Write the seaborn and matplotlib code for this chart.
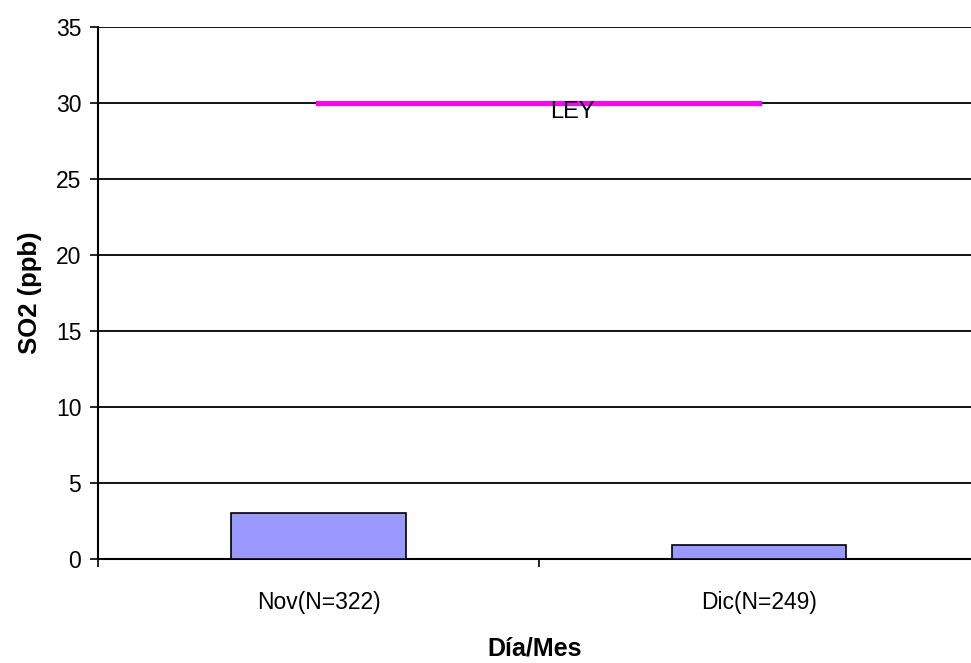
import matplotlib
matplotlib.use("Agg")
import matplotlib.pyplot as plt
import seaborn as sns
import pandas as pd
import numpy as np
from matplotlib.ticker import FixedLocator

categories = ["Nov(N=322)", "Dic(N=249)"]
so2_values = [3.0, 0.9]
ley_values = [30, 30]
ley_label = "LEY"
y_ticks = [0, 5, 10, 15, 20, 25, 30, 35]

sns.set_theme(style="white")
plt.rcParams["font.family"] = ["Liberation Sans", "DejaVu Sans"]
plt.rcParams["text.color"] = "black"
plt.rcParams["axes.labelcolor"] = "black"
plt.rcParams["xtick.color"] = "black"
plt.rcParams["ytick.color"] = "black"

fig = plt.figure(figsize=(9.71, 6.63), dpi=100)
ax = fig.add_axes([98/971, 104/663, 873/971, 532/663])

df = pd.DataFrame({"mes": categories, "so2": so2_values})
sns.barplot(data=df, x="mes", y="so2", ax=ax, color="#9999FF", saturation=1,
            width=0.395, edgecolor="black", linewidth=1.2, zorder=3)

xpos = np.arange(len(categories))
ax.plot(xpos, ley_values, color="#FF00FF", linewidth=3.8, zorder=4,
        solid_capstyle="projecting")
ax.text(0.575, 30.15, ley_label, ha="center", va="top", fontsize=17,
        color="black", zorder=5)

ax.set_xlim(-0.5, 1.48)
ax.set_ylim(0, 35)
ax.set_yticks(y_ticks)
ax.yaxis.grid(True, color="black", linewidth=1.3)
ax.set_axisbelow(True)
for g in ax.get_ygridlines():
    g.set_zorder(1)

ax.set_xticks(xpos)
ax.set_xticklabels(categories)
ax.xaxis.set_minor_locator(FixedLocator([-0.5, 0.5]))
ax.tick_params(axis="x", which="major", length=0, pad=23, labelsize=16.5)
ax.tick_params(axis="x", which="minor", length=6, width=1.2, color="black",
               direction="out", bottom=True)
ax.tick_params(axis="y", length=6, width=1.2, color="black", direction="out",
               left=True, labelsize=16.5, pad=6)

for s in ["top", "right"]:
    ax.spines[s].set_visible(False)
for s in ["left", "bottom"]:
    ax.spines[s].set_color("black")
    ax.spines[s].set_linewidth(1.5)

ax.set_xlabel("Día/Mes", fontsize=18, fontweight="bold", labelpad=16)
ax.set_ylabel("SO2 (ppb)", fontsize=18.5, fontweight="bold", labelpad=10)

fig.savefig("out.png", dpi=100, facecolor="white")
